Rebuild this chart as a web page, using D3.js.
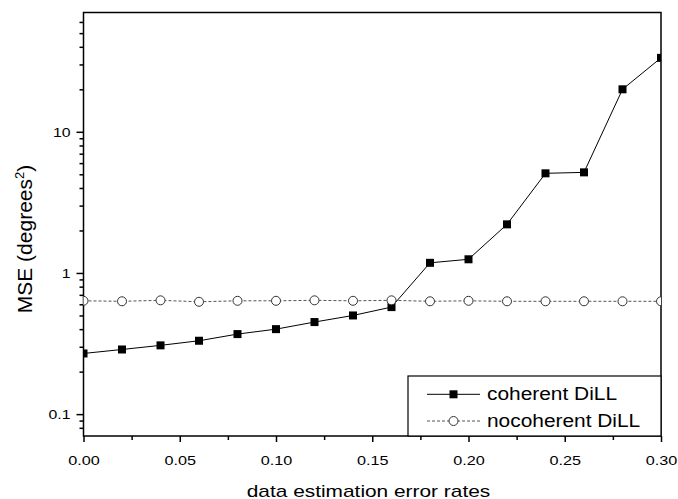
<!DOCTYPE html>
<html>
<head>
<meta charset="utf-8">
<script src="https://cdn.jsdelivr.net/npm/d3@7"></script>
<style>
  html, body { margin: 0; padding: 0; background: #fff; }
  svg { display: block; }
  text { font-family: "Liberation Sans", Arial, sans-serif; fill: #000; }
</style>
</head>
<body>
<svg id="chart" width="678" height="499"></svg>
<script>
// Error rates along the x axis
const errorRates = [0.00, 0.02, 0.04, 0.06, 0.08, 0.10, 0.12, 0.14, 0.16,
                    0.18, 0.20, 0.22, 0.24, 0.26, 0.28, 0.30];
// MSE (degrees^2) for each method
const coherentMSE = [0.269, 0.287, 0.307, 0.331, 0.369, 0.400, 0.449, 0.500, 0.573,
                     1.18, 1.25, 2.21, 5.08, 5.16, 20.0, 33.4];
const nocoherentMSE = [0.635, 0.630, 0.640, 0.625, 0.635, 0.635, 0.640, 0.635, 0.640,
                       0.630, 0.635, 0.630, 0.630, 0.630, 0.630, 0.630];
const seriesNames = ["coherent DiLL", "nocoherent DiLL"];

const xMajorTicks = [0.00, 0.05, 0.10, 0.15, 0.20, 0.25, 0.30];
const xMinorTicks = [0.025, 0.075, 0.125, 0.175, 0.225, 0.275];
const yMajorTicks = [0.1, 1, 10];
const yMinorTicks = [0.08, 0.09, 0.2, 0.3, 0.4, 0.5, 0.6, 0.7, 0.8, 0.9,
                     2, 3, 4, 5, 6, 7, 8, 9, 20, 30, 40, 50, 60];
const xTitle = "data estimation error rates";

const svg = d3.select("#chart");
const plot = { left: 83.5, right: 661, top: 12.5, bottom: 436 };

const x = d3.scaleLinear().domain([0, 0.30]).range([plot.left, plot.right]);
const y = d3.scaleLog().domain([0.07, 70]).range([plot.bottom, plot.top]);

// Widen glyphs horizontally by a factor, keeping their height
function stretch(sel, k) {
  sel.each(function () {
    const w = this.getComputedTextLength();
    d3.select(this).attr("textLength", w * k).attr("lengthAdjust", "spacingAndGlyphs");
  });
}

svg.append("defs").append("clipPath").attr("id", "plotClip")
  .append("rect")
  .attr("x", plot.left).attr("y", plot.top)
  .attr("width", plot.right - plot.left).attr("height", plot.bottom - plot.top);

// X axis: major + minor ticks pointing down
const xAxis = svg.append("g").attr("transform", `translate(0,${plot.bottom})`);
xAxis.call(d3.axisBottom(x).tickValues(xMajorTicks).tickSize(6).tickPadding(13)
  .tickFormat(d3.format(".2f")));
xAxis.append("g").call(d3.axisBottom(x).tickValues(xMinorTicks).tickSize(4).tickFormat(""))
  .select(".domain").remove();
xAxis.selectAll(".domain").remove();
xAxis.selectAll("line").attr("stroke", "#000").attr("stroke-width", 1.5);
xAxis.selectAll("text").attr("font-size", 13.5).attr("font-family", "Liberation Sans, Arial, sans-serif")
  .call(stretch, 1.2);

// Y axis (log): major + minor ticks pointing left
const yAxis = svg.append("g").attr("transform", `translate(${plot.left},0)`);
yAxis.call(d3.axisLeft(y).tickValues(yMajorTicks).tickSize(7).tickPadding(6)
  .tickFormat(d => String(d)));
yAxis.append("g").call(d3.axisLeft(y).tickValues(yMinorTicks).tickSize(4).tickFormat(""))
  .select(".domain").remove();
yAxis.selectAll(".domain").remove();
yAxis.selectAll("line").attr("stroke", "#000").attr("stroke-width", 1.5);
yAxis.selectAll("text").attr("font-size", 13.5).attr("font-family", "Liberation Sans, Arial, sans-serif")
  .call(stretch, 1.17);

// Plot frame
svg.append("rect")
  .attr("x", plot.left).attr("y", plot.top)
  .attr("width", plot.right - plot.left).attr("height", plot.bottom - plot.top)
  .attr("fill", "none").attr("stroke", "#000").attr("stroke-width", 1.5);

const marks = svg.append("g").attr("clip-path", "url(#plotClip)");

const lineCoh = d3.line().x((d, i) => x(errorRates[i])).y(d => y(d));

// nocoherent: dashed line, open circles
marks.append("path").datum(nocoherentMSE)
  .attr("d", lineCoh).attr("fill", "none")
  .attr("stroke", "#555").attr("stroke-width", 1).attr("stroke-dasharray", "3,2");

// coherent: solid line, filled squares
marks.append("path").datum(coherentMSE)
  .attr("d", lineCoh).attr("fill", "none")
  .attr("stroke", "#000").attr("stroke-width", 1);

const sq = 8;
marks.selectAll("rect.coh").data(coherentMSE).join("rect")
  .attr("class", "coh")
  .attr("x", (d, i) => x(errorRates[i]) - sq / 2)
  .attr("y", d => y(d) - sq / 2)
  .attr("width", sq).attr("height", sq)
  .attr("fill", "#000");

marks.selectAll("circle.nocoh").data(nocoherentMSE).join("circle")
  .attr("class", "nocoh")
  .attr("cx", (d, i) => x(errorRates[i]))
  .attr("cy", d => y(d))
  .attr("r", 4.5)
  .attr("fill", "#fff").attr("stroke", "#333").attr("stroke-width", 1);

// Legend
const legend = svg.append("g");
legend.append("rect")
  .attr("x", 408).attr("y", 376).attr("width", plot.right - 408).attr("height", plot.bottom - 376)
  .attr("fill", "#fff").attr("stroke", "#000").attr("stroke-width", 1.2);

const rowY = [394.3, 421];
legend.append("line").attr("x1", 427).attr("x2", 480).attr("y1", rowY[0]).attr("y2", rowY[0])
  .attr("stroke", "#000").attr("stroke-width", 1);
legend.append("rect").attr("x", 453.5 - sq / 2).attr("y", rowY[0] - sq / 2)
  .attr("width", sq).attr("height", sq).attr("fill", "#000");
legend.append("line").attr("x1", 427).attr("x2", 480).attr("y1", rowY[1]).attr("y2", rowY[1])
  .attr("stroke", "#555").attr("stroke-width", 1).attr("stroke-dasharray", "3,2");
legend.append("circle").attr("cx", 453.5).attr("cy", rowY[1]).attr("r", 4.5)
  .attr("fill", "#fff").attr("stroke", "#333").attr("stroke-width", 1);

legend.selectAll("text.lg").data(seriesNames).join("text")
  .attr("class", "lg")
  .attr("x", 487).attr("y", (d, i) => rowY[i] + 6)
  .attr("font-size", 18)
  .text(d => d)
  .call(stretch, 1.16);

// Axis titles
svg.append("text")
  .attr("x", 368.5).attr("y", 496.5)
  .attr("text-anchor", "middle").attr("font-size", 17)
  .text(xTitle)
  .call(stretch, 1.227);

const yt = svg.append("text")
  .attr("transform", "translate(31.5,239) rotate(-90)")
  .attr("text-anchor", "middle").attr("font-size", 21);
yt.append("tspan").text("MSE (degrees");
yt.append("tspan").attr("font-size", 13).attr("dy", -8).text("2");
yt.append("tspan").attr("dy", 8).text(")");
</script>
</body>
</html>
